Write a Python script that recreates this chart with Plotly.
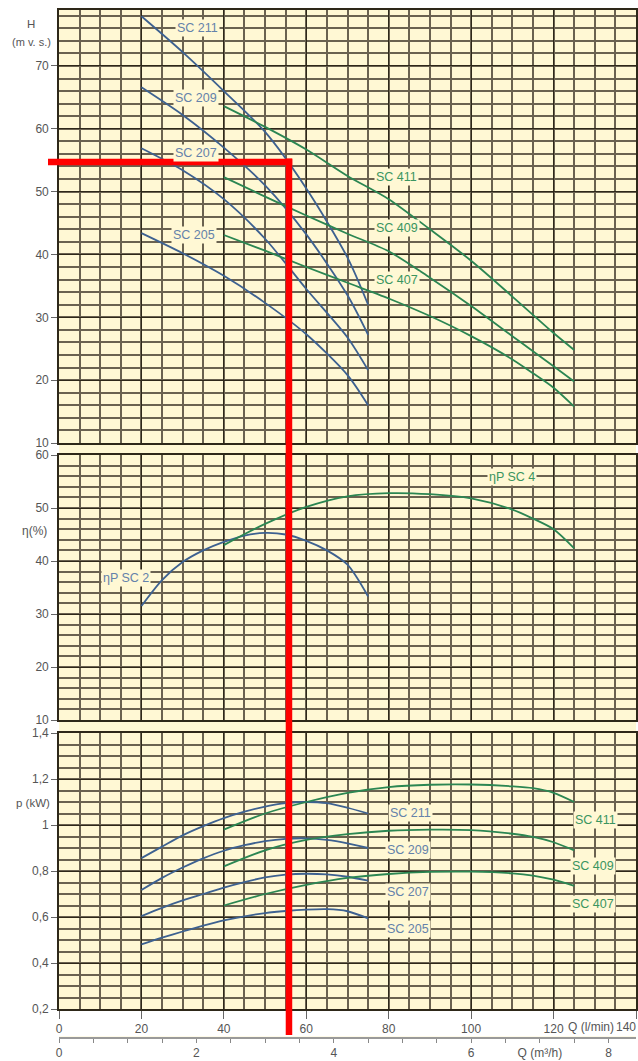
import plotly.graph_objects as go

# ---------------- data ----------------
# Head curves (m v.s.) vs Q (l/min)
Q_SC2_H = [20, 30, 40, 50, 60, 70, 75]
H_SC211 = [77.9, 72.2, 66.0, 59.5, 50.5, 39.5, 32.0]
H_SC209 = [66.6, 62.2, 57.0, 51.0, 43.2, 33.5, 27.2]
H_SC207 = [56.9, 53.4, 48.8, 42.5, 34.5, 26.8, 21.6]
H_SC205 = [43.4, 40.2, 36.6, 32.3, 27.3, 20.8, 16.0]

Q_SC4 = [40, 50, 60, 70, 80, 90, 100, 110, 115, 120, 125]
H_SC411 = [63.6, 60.3, 56.7, 52.5, 48.8, 44.0, 39.0, 33.3, 30.4, 27.5, 24.8]
H_SC409 = [52.3, 49.2, 46.2, 43.3, 40.5, 36.3, 31.8, 27.0, 24.6, 22.2, 19.8]
H_SC407 = [43.1, 40.6, 38.0, 35.5, 33.0, 30.2, 27.0, 23.3, 21.1, 18.8, 15.8]

# Efficiency (%)
Q_SC2 = [20, 25, 30, 35, 40, 45, 50, 55, 60, 65, 70, 75]
ETA_SC2 = [31.5, 36.4, 39.8, 42.0, 43.6, 44.8, 45.3, 45.0, 43.8, 42.0, 39.3, 33.3]
ETA_SC4 = [43.0, 47.0, 50.2, 52.2, 52.8, 52.6, 51.8, 49.7, 48.0, 46.0, 42.4]

# Power (kW)
P_SC211 = [0.856, 0.906, 0.955, 0.995, 1.030, 1.058, 1.080, 1.095, 1.100, 1.095, 1.075, 1.050]
P_SC209 = [0.717, 0.770, 0.815, 0.855, 0.888, 0.912, 0.930, 0.940, 0.942, 0.935, 0.920, 0.900]
P_SC207 = [0.604, 0.640, 0.672, 0.700, 0.728, 0.752, 0.772, 0.784, 0.788, 0.785, 0.775, 0.758]
P_SC205 = [0.481, 0.510, 0.537, 0.562, 0.585, 0.603, 0.617, 0.626, 0.632, 0.634, 0.625, 0.594]
P_SC411 = [0.980, 1.050, 1.100, 1.140, 1.165, 1.175, 1.176, 1.168, 1.160, 1.140, 1.100]
P_SC409 = [0.820, 0.890, 0.935, 0.960, 0.975, 0.980, 0.978, 0.962, 0.948, 0.925, 0.890]
P_SC407 = [0.650, 0.700, 0.740, 0.770, 0.787, 0.796, 0.797, 0.790, 0.780, 0.762, 0.735]

# Reading marked in red
RED_Q = 55.8
RED_H = 54.7

# Axis ticks
Q_TICKS = [0, 20, 40, 60, 80, 100, 120, 140]
Q_TICKTEXT = ["0", "20", "40", "60", "80", "100", "120", ""]
M3H_TICKS = [0, 0.5, 1, 1.5, 2, 2.5, 3, 3.5, 4, 4.5, 5, 5.5, 6, 6.5, 7, 7.5, 8]
M3H_TICKTEXT = ["0", "", "", "", "2", "", "", "", "4", "", "", "", "6", "", "Q (m³/h)", "", "8"]
H_TICKS = [10, 20, 30, 40, 50, 60, 70]
ETA_TICKS = [10, 20, 30, 40, 50, 60]
P_TICKS = [0.2, 0.4, 0.6, 0.8, 1.0, 1.2, 1.4]
P_TICKTEXT = ["0,2", "0,4", "0,6", "0,8", "1", "1,2", "1,4"]

# ---------------- style ----------------
CREAM = "#FFF8D4"
BLUE = "#3d6190"
GREEN = "#2b8652"
BLUE_T = "#6482aa"
GREEN_T = "#3a9560"
GRID_MAJ = "#2e2819"
GRID_MIN = "#6a6250"
TICKC = "#666666"
FONT = "Liberation Sans, Arial, sans-serif"

W, H = 638, 1061
ML, MR, MT, MB = 59, 2, 10, 24
PW = W - ML - MR
PH = H - MT - MB


def py(pix):  # pixel y -> paper y
    return (H - MB - pix) / PH


def px(pix):
    return (pix - ML) / PW


D1 = [py(443), 1.0]
D2 = [py(720), py(455)]
D3 = [py(1009), py(733)]
D4 = [0.0, 0.0005]

fig = go.Figure()


def line(x, y, color, xa, ya):
    fig.add_trace(go.Scatter(x=x, y=y, mode="lines", xaxis=xa, yaxis=ya,
                             line=dict(color=color, width=1.8, shape="spline", smoothing=0.8),
                             hoverinfo="skip", showlegend=False))


# panel 1
for yv in [H_SC211, H_SC209, H_SC207, H_SC205]:
    line(Q_SC2_H, yv, BLUE, "x", "y")
for yv in [H_SC411, H_SC409, H_SC407]:
    line(Q_SC4, yv, GREEN, "x", "y")
# panel 2
line(Q_SC2, ETA_SC2, BLUE, "x2", "y2")
line(Q_SC4, ETA_SC4, GREEN, "x2", "y2")
# panel 3
for yv in [P_SC211, P_SC209, P_SC207, P_SC205]:
    line(Q_SC2, yv, BLUE, "x3", "y3")
for yv in [P_SC411, P_SC409, P_SC407]:
    line(Q_SC4, yv, GREEN, "x3", "y3")
# dummy for m3/h axis
fig.add_trace(go.Scatter(x=[0], y=[0], mode="markers", marker=dict(opacity=0),
                         xaxis="x4", yaxis="y4", hoverinfo="skip", showlegend=False))

tickfont = dict(family=FONT, size=12, color="#555555")

xcommon = dict(range=[0, 140], showgrid=True, gridcolor=GRID_MAJ, gridwidth=1.4,
               showline=True, linecolor=GRID_MAJ, linewidth=1.6, mirror=True,
               tickmode="array", tickvals=Q_TICKS, ticktext=Q_TICKTEXT,
               minor=dict(tickmode="linear", tick0=0, dtick=5, showgrid=True,
                          gridcolor=GRID_MIN, gridwidth=1.9, ticks=""),
               zeroline=False, tickfont=tickfont, automargin=False)

ycommon = dict(showgrid=True, gridcolor=GRID_MAJ, gridwidth=1.4,
               showline=True, linecolor=GRID_MAJ, linewidth=1.6, mirror=True,
               ticks="outside", ticklen=6, tickcolor=TICKC, tickwidth=1.2,
               zeroline=False, tickfont=tickfont, tickmode="array", automargin=False)

fig.update_layout(
    width=W, height=H,
    margin=dict(l=ML, r=MR, t=MT, b=MB, autoexpand=False),
    paper_bgcolor="white", plot_bgcolor=CREAM,
    font=dict(family=FONT, size=12, color="#555555"),
    xaxis=dict(**xcommon, anchor="y", showticklabels=False, ticks=""),
    xaxis2=dict(**xcommon, anchor="y2", showticklabels=False, ticks="", matches="x"),
    xaxis3=dict(**xcommon, anchor="y3", ticks="outside", ticklen=8, tickcolor=TICKC,
                tickwidth=1.4, matches="x"),
    xaxis4=dict(range=[0, 140 / 16.6667], anchor="y4", showgrid=False, zeroline=False,
                showline=True, linecolor="#9a9a9a", linewidth=2,
                tickmode="array", tickvals=M3H_TICKS, ticktext=M3H_TICKTEXT,
                ticks="outside", ticklen=4, tickcolor="#888888", tickwidth=1.4,
                tickfont=tickfont, automargin=False),
    yaxis=dict(**ycommon, domain=D1, range=[10, 78.9], tickvals=H_TICKS,
               minor=dict(tickmode="linear", tick0=0, dtick=2, showgrid=True,
                          gridcolor=GRID_MIN, gridwidth=1.9, ticks="")),
    yaxis2=dict(**ycommon, domain=D2, range=[10, 60], tickvals=ETA_TICKS,
                minor=dict(tickmode="linear", tick0=0, dtick=2, showgrid=True,
                           gridcolor=GRID_MIN, gridwidth=1.9, ticks="")),
    yaxis3=dict(**ycommon, domain=D3, range=[0.2, 1.4], tickvals=P_TICKS, ticktext=P_TICKTEXT,
                minor=dict(tickmode="linear", tick0=0, dtick=0.05, showgrid=True,
                           gridcolor=GRID_MIN, gridwidth=1.9, ticks="")),
    yaxis4=dict(domain=D4, visible=False, range=[0, 1]),
)

# cream backdrop incl. gaps
fig.add_shape(type="rect", xref="paper", yref="paper", x0=0, x1=1, y0=D3[0], y1=1,
              fillcolor=CREAM, line=dict(width=0), layer="below")

# red reading lines
fig.add_shape(type="line", xref="x3", yref="paper", x0=RED_Q, x1=RED_Q,
              y0=py(1035), y1=py(158.5), line=dict(color="#ff0000", width=6.5), layer="above")
fig.add_shape(type="line", xref="paper", yref="y", x0=px(48), x1=RED_Q / 140 + 3.3 / PW,
              y0=RED_H, y1=RED_H, line=dict(color="#ff0000", width=6.5), layer="above")


def lab(text, x, y, xr, yr, color):
    fig.add_annotation(text=text, x=x, y=y, xref=xr, yref=yr, showarrow=False,
                       font=dict(family=FONT, size=12.5, color=color),
                       bgcolor=CREAM, borderpad=1)


# panel 1 labels
lab("SC 211", 33.7, 76.1, "x", "y", BLUE_T)
lab("SC 209", 33.2, 64.9, "x", "y", BLUE_T)
lab("SC 207", 33.2, 56.2, "x", "y", BLUE_T)
lab("SC 205", 32.8, 43.1, "x", "y", BLUE_T)
lab("SC 411", 82.0, 52.3, "x", "y", GREEN_T)
lab("SC 409", 82.0, 44.2, "x", "y", GREEN_T)
lab("SC 407", 82.0, 35.9, "x", "y", GREEN_T)
# panel 2 labels
lab("ηP SC 2", 16.3, 36.7, "x2", "y2", BLUE_T)
lab("ηP SC 4", 109.9, 55.8, "x2", "y2", GREEN_T)
# panel 3 labels
lab("SC 211", 85.4, 1.052, "x3", "y3", BLUE_T)
lab("SC 209", 84.6, 0.891, "x3", "y3", BLUE_T)
lab("SC 207", 84.6, 0.709, "x3", "y3", BLUE_T)
lab("SC 205", 84.6, 0.548, "x3", "y3", BLUE_T)
lab("SC 411", 130.1, 1.022, "x3", "y3", GREEN_T)
lab("SC 409", 129.6, 0.822, "x3", "y3", GREEN_T)
lab("SC 407", 129.6, 0.657, "x3", "y3", GREEN_T)


def ptxt(text, x, y, xanchor="center", size=11.5):
    fig.add_annotation(text=text, x=px(x), y=py(y), xref="paper", yref="paper",
                       showarrow=False, xanchor=xanchor, yanchor="middle",
                       font=dict(family=FONT, size=size, color="#555555"))


ptxt("H", 31, 24)
ptxt("(m v. s.)", 31, 42, size=11)
ptxt("η(%)", 34, 531, size=12)
ptxt("p (kW)", 33, 803, size=11.5)
ptxt("Q (l/min)", 591, 1027, size=12)
ptxt("140", 638, 1027, xanchor="right", size=12)

fig.write_html(
    "out.html",
    config={"displayModeBar": False},
    post_script="document.body.style.margin='0';document.body.style.overflow='hidden';",
)
